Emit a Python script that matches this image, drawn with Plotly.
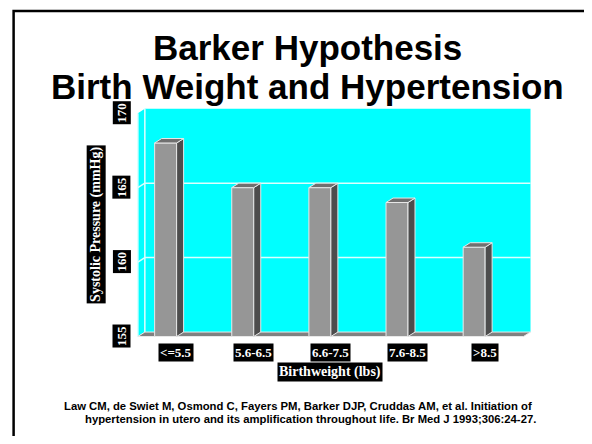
import plotly.graph_objects as go

# ---- data ----
categories = ["<=5.5", "5.6-6.5", "6.6-7.5", "7.6-8.5", ">8.5"]
systolic = [168, 165, 165, 164, 161]
y_ticks = [155, 160, 165, 170]
title_lines = ["Barker Hypothesis", "Birth Weight and Hypertension"]
citation_lines = [
    "Law CM, de Swiet M, Osmond C, Fayers PM, Barker DJP, Cruddas AM, et al. Initiation of",
    "hypertension in utero and its amplification throughout life. Br Med J 1993;306:24-27.",
]

# ---- geometry (layout) ----
OFF = 8                      # page body margin
FW, FH = 592 - 2 * OFF, 428
DX, DY = 0.0907, 0.30        # 3D depth offset in data units
X0, X1 = -0.55, 4.61
Y0, Y1 = 154.9, 170.35
L, T = 133.5 - OFF, 107.8 - OFF
PW = (X1 - X0) * 77.2
PH = (Y1 - Y0) * 14.93
R = FW - L - PW
B = FH - T - PH

def xp(px):
    return (px - OFF - L) / PW

def yp(py):
    return 1 - (py - OFF - T) / PH

CYAN = "#00FFFF"
GRID = "#dcffff"
EDGE = "#e8e8e8"
BAR_FRONT = "#969696"
BAR_SIDE = "#4d4d4d"
BAR_TOP = "#707070"
FLOOR = "#808080"
SERIF = "Liberation Serif, Times New Roman, serif"
SANS = "Liberation Sans, Arial, sans-serif"

BAR_W = 0.285
BAR_OFF = -0.14 - BAR_W / 2
ymin = y_ticks[0]
ymax = y_ticks[-1]
xl_edge = -0.5
xr_edge = len(categories) - 0.5

fig = go.Figure()

fig.add_trace(go.Bar(
    x=list(range(len(categories))), y=[v - ymin for v in systolic], base=ymin,
    width=BAR_W, offset=BAR_OFF,
    marker=dict(color=BAR_FRONT, line=dict(color=EDGE, width=1)),
    hoverinfo="skip", showlegend=False,
))

shapes = []
def poly(pts, fill, line_color=EDGE, lw=1, layer="above"):
    d = "M " + " L ".join(f"{x},{y}" for x, y in pts) + " Z"
    shapes.append(dict(type="path", path=d, xref="x", yref="y", fillcolor=fill,
                       line=dict(color=line_color, width=lw), layer=layer))

def seg(x0, y0, x1, y1, color, lw=1.2, layer="below"):
    shapes.append(dict(type="line", xref="x", yref="y", x0=x0, y0=y0, x1=x1, y1=y1,
                       line=dict(color=color, width=lw), layer=layer))

# back wall
poly([(xl_edge + DX, ymin + DY), (xr_edge + DX, ymin + DY), (xr_edge + DX, ymax + DY),
      (xl_edge + DX, ymax + DY)], CYAN, CYAN, 0, "below")
# side wall
poly([(xl_edge, ymin), (xl_edge + DX, ymin + DY), (xl_edge + DX, ymax + DY), (xl_edge, ymax)],
     CYAN, CYAN, 0, "below")
# gridlines
for v in y_ticks[1:-1]:
    seg(xl_edge + DX, v + DY, xr_edge + DX, v + DY, GRID, 1.5)
    seg(xl_edge, v, xl_edge + DX, v + DY, GRID, 1.5)
seg(xl_edge, ymin, xl_edge, ymax, GRID, 1.5)
seg(xl_edge + DX, ymin + DY, xl_edge + DX, ymax + DY, GRID, 1.5)
# floor
poly([(xl_edge, ymin), (xr_edge, ymin), (xr_edge + DX, ymin + DY), (xl_edge + DX, ymin + DY)],
     FLOOR, EDGE, 1, "below")

# bar 3D faces
for i, v in enumerate(systolic):
    xl = i + BAR_OFF
    xr = xl + BAR_W
    poly([(xr, ymin), (xr + DX, ymin + DY), (xr + DX, v + DY), (xr, v)], BAR_SIDE, EDGE, 1)
    poly([(xl, v), (xr, v), (xr + DX, v + DY), (xl + DX, v + DY)], BAR_TOP, EDGE, 1)

# slide frame (top and left edges visible), as one open path
frame = (f"M {xp(13)},{yp(444)} L {xp(13)},{yp(10.5)} L {xp(592)},{yp(10.5)}")
shapes.append(dict(type="path", path=frame, xref="paper", yref="paper",
                   line=dict(color="black", width=2.5), fillcolor="rgba(0,0,0,0)",
                   layer="above"))

annotations = []
# title
for line, cy in zip(title_lines, [47.5, 86.5]):
    annotations.append(dict(text=f"<b>{line}</b>", xref="paper", yref="paper",
                            x=xp(307), y=yp(cy), xanchor="center", yanchor="middle",
                            showarrow=False, font=dict(family=SANS, size=35, color="black")))
# category labels
for i, c in enumerate(categories):
    annotations.append(dict(text=f"<b>{c}</b>", xref="x", yref="paper", x=i, y=yp(353),
                            xanchor="center", yanchor="middle", showarrow=False,
                            bgcolor="black", borderpad=1,
                            font=dict(family=SERIF, size=13, color="white")))
# y tick labels
for v in y_ticks:
    annotations.append(dict(text=f"<b>{v}</b>", xref="paper", yref="y", x=xp(121), y=v,
                            xanchor="center", yanchor="middle", textangle=-90, showarrow=False,
                            bgcolor="black", borderpad=1,
                            font=dict(family=SERIF, size=13, color="white")))
# axis titles
annotations.append(dict(text="<b>Birthweight (lbs)</b>", xref="paper", yref="paper",
                        x=xp(330), y=yp(373), xanchor="center", yanchor="middle",
                        showarrow=False, bgcolor="black", borderpad=1,
                        font=dict(family=SERIF, size=14, color="white")))
annotations.append(dict(text="<b>Systolic Pressure (mmHg)</b>", xref="paper", yref="paper",
                        x=xp(95.5), y=yp(225), xanchor="center", yanchor="middle",
                        textangle=-90, showarrow=False, bgcolor="black", borderpad=1,
                        font=dict(family=SERIF, size=14, color="white")))
# citation
for line, lx, cy in zip(citation_lines, [61, 82], [407, 420]):
    annotations.append(dict(text=f"<b>{line}</b>", xref="paper", yref="paper",
                            x=xp(lx), y=yp(cy), xanchor="left", yanchor="middle",
                            showarrow=False, font=dict(family=SANS, size=11.3, color="black")))

fig.update_layout(
    width=FW, height=FH,
    margin=dict(l=L, r=R, t=T, b=B, pad=0),
    paper_bgcolor="white", plot_bgcolor="white",
    xaxis=dict(range=[X0, X1], showgrid=False, zeroline=False, showticklabels=False,
               showline=False, ticks=""),
    yaxis=dict(range=[Y0, Y1], showgrid=False, zeroline=False, showticklabels=False,
               showline=False, ticks=""),
    shapes=shapes, annotations=annotations, showlegend=False,
)

fig.write_html("out.html")
